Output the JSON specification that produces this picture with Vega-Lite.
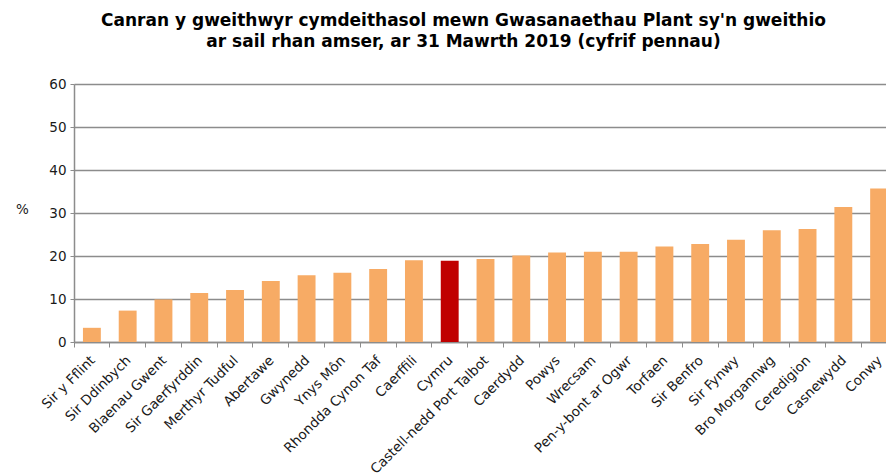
{
  "$schema": "https://vega.github.io/schema/vega-lite/v6.json",
  "autosize": {"type": "none"},
  "padding": {"left": 74, "top": 84, "right": 0, "bottom": 134},
  "width": 823,
  "height": 258,
  "background": "white",
  "title": {
    "text": ["Canran y gweithwyr cymdeithasol mewn Gwasanaethau Plant sy'n gweithio", "ar sail rhan amser, ar 31 Mawrth 2019 (cyfrif pennau)"],
    "font": "DejaVu Sans",
    "fontSize": 17,
    "fontWeight": "bold",
    "color": "#000000",
    "anchor": "middle",
    "dx": -22,
    "offset": 26,
    "lineHeight": 21
  },
  "data": {
    "values": [
      {"area": "Sir y Fflint", "value": 3.3, "type": "la"},
      {"area": "Sir Ddinbych", "value": 7.3, "type": "la"},
      {"area": "Blaenau Gwent", "value": 9.9, "type": "la"},
      {"area": "Sir Gaerfyrddin", "value": 11.4, "type": "la"},
      {"area": "Merthyr Tudful", "value": 12.1, "type": "la"},
      {"area": "Abertawe", "value": 14.2, "type": "la"},
      {"area": "Gwynedd", "value": 15.5, "type": "la"},
      {"area": "Ynys Môn", "value": 16.1, "type": "la"},
      {"area": "Rhondda Cynon Taf", "value": 17.0, "type": "la"},
      {"area": "Caerffili", "value": 19.0, "type": "la"},
      {"area": "Cymru", "value": 18.9, "type": "wales"},
      {"area": "Castell-nedd Port Talbot", "value": 19.3, "type": "la"},
      {"area": "Caerdydd", "value": 20.1, "type": "la"},
      {"area": "Powys", "value": 20.8, "type": "la"},
      {"area": "Wrecsam", "value": 21.0, "type": "la"},
      {"area": "Pen-y-bont ar Ogwr", "value": 21.0, "type": "la"},
      {"area": "Torfaen", "value": 22.2, "type": "la"},
      {"area": "Sir Benfro", "value": 22.8, "type": "la"},
      {"area": "Sir Fynwy", "value": 23.8, "type": "la"},
      {"area": "Bro Morgannwg", "value": 26.0, "type": "la"},
      {"area": "Ceredigion", "value": 26.3, "type": "la"},
      {"area": "Casnewydd", "value": 31.4, "type": "la"},
      {"area": "Conwy", "value": 35.7, "type": "la"}
    ]
  },
  "config": {
    "view": {"stroke": null},
    "axis": {"labelFont": "DejaVu Sans", "titleFont": "DejaVu Sans"}
  },
  "mark": {"type": "bar", "width": {"band": 0.5}},
  "encoding": {
    "x": {
      "field": "area",
      "type": "nominal",
      "sort": null,
      "scale": {"paddingInner": 0, "paddingOuter": 0},
      "axis": {
        "title": null,
        "labelAngle": -45,
        "labelAlign": "right",
        "labelBaseline": "top",
        "labelFontSize": 13.5,
        "labelColor": "#1a1a1a",
        "labelPadding": 6,
        "labelOffset": -4,
        "labelOverlap": false,
        "bandPosition": 0,
        "tickColor": "#8c8c8c",
        "tickSize": 5,
        "domainColor": "#8c8c8c",
        "domainWidth": 1.5,
        "grid": false
      }
    },
    "y": {
      "field": "value",
      "type": "quantitative",
      "scale": {"domain": [0, 60]},
      "axis": {
        "values": [0, 10, 20, 30, 40, 50, 60],
        "title": "%",
        "titleAngle": 0,
        "titleFontSize": 13.5,
        "titleFontWeight": "normal",
        "titleColor": "#1a1a1a",
        "titleX": -52,
        "titleY": 125,
        "titleAlign": "center",
        "titleBaseline": "middle",
        "labelFontSize": 13.5,
        "labelColor": "#1a1a1a",
        "labelPadding": 4,
        "tickColor": "#8c8c8c",
        "tickSize": 4,
        "domainColor": "#8c8c8c",
        "domainWidth": 1.5,
        "gridColor": "#8c8c8c",
        "gridWidth": 1.5
      }
    },
    "color": {
      "field": "type",
      "type": "nominal",
      "scale": {"domain": ["la", "wales"], "range": ["#F7AB65", "#C00000"]},
      "legend": null
    }
  }
}
